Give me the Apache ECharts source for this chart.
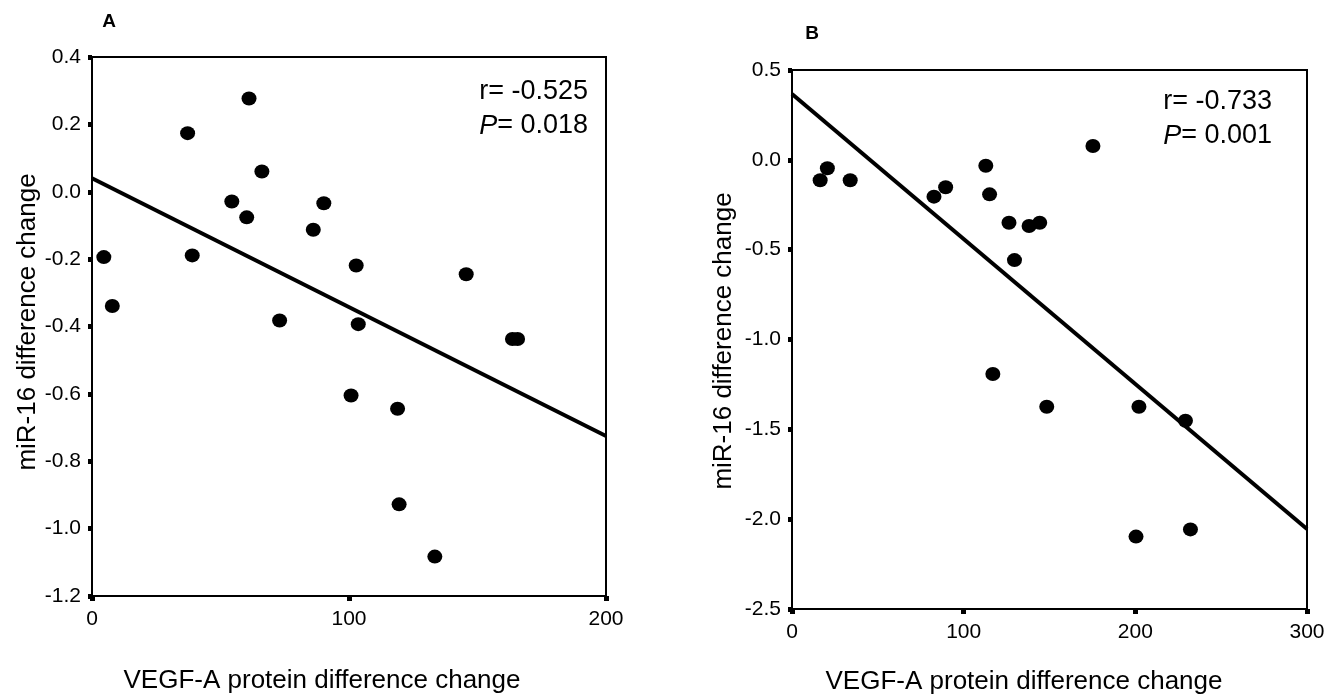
<!DOCTYPE html>
<html>
<head>
<meta charset="utf-8">
<script src="https://cdn.jsdelivr.net/npm/echarts@6/dist/echarts.min.js"></script>
<style>
html,body{margin:0;padding:0;background:#fff;}
#chart{width:1329px;height:697px;}
</style>
</head>
<body>
<div id="chart"></div>
<script>
// ---------- Data ----------
// Panel A: VEGF-A protein difference change (x) vs miR-16 difference change (y)
const aX = [4.6, 7.9, 37.2, 39.0, 61.1, 54.4, 60.2, 66.1, 90.2, 86.1, 102.8, 73.0, 103.6, 145.6, 163.6, 165.6, 100.8, 118.9, 119.5, 133.4];
const aY = [-0.194, -0.339, 0.174, -0.189, 0.277, -0.029, -0.076, 0.060, -0.034, -0.113, -0.219, -0.382, -0.393, -0.245, -0.437, -0.437, -0.605, -0.644, -0.928, -1.083];
const aFitX = [0, 200];
const aFitY = [0.040, -0.725];
const aStats = ["r= -0.525", "0.018"];

// Panel B
const bX = [16.4, 20.6, 33.9, 82.7, 89.5, 112.9, 115.1, 126.4, 138.1, 144.3, 129.6, 175.3, 117.0, 148.4, 202.1, 229.2, 200.4, 232.1];
const bY = [-0.114, -0.047, -0.114, -0.205, -0.153, -0.033, -0.192, -0.350, -0.368, -0.350, -0.558, 0.077, -1.192, -1.374, -1.374, -1.452, -2.097, -2.057];
const bFitX = [0, 300];
const bFitY = [0.366, -2.055];
const bStats = ["r= -0.733", "0.001"];

const xName = "VEGF-A protein difference change";
const yName = "miR-16 difference change";
const panelLabels = ["A", "B"];

// ---------- Chart ----------
const FONT = "'Liberation Sans', Arial, Helvetica, sans-serif";
const zip = (xs, ys) => xs.map((x, i) => [x, ys[i]]);

function xAxisCfg(gi, max) {
  return {
    type: 'value', gridIndex: gi, min: 0, max: max, interval: 100,
    axisLine: {show: true, onZero: false, lineStyle: {color: '#000', width: 2}},
    axisTick: {show: true, length: 5, lineStyle: {color: '#000', width: 5}},
    axisLabel: {color: '#000', fontSize: 21, fontFamily: FONT, margin: 13},
    splitLine: {show: false}
  };
}
function yAxisCfg(gi, min, max, interval) {
  return {
    type: 'value', gridIndex: gi, min: min, max: max, interval: interval,
    axisLine: {show: true, onZero: false, lineStyle: {color: '#000', width: 2}},
    axisTick: {show: true, length: 4, lineStyle: {color: '#000', width: 5}},
    axisLabel: {color: '#000', fontSize: 21, fontFamily: FONT, margin: 11,
      formatter: v => v.toFixed(1)},
    splitLine: {show: false}
  };
}

const chart = echarts.init(document.getElementById('chart'), null, {renderer: 'canvas'});

const gridBase = {show: true, borderColor: '#000', borderWidth: 2, backgroundColor: 'transparent',
  containLabel: false, outerBoundsMode: 'none'};

const dotStyle = {color: '#000', opacity: 1};

const option = {
  animation: false,
  backgroundColor: '#fff',
  grid: [
    Object.assign({left: 92, top: 57, width: 514, height: 539}, gridBase),
    Object.assign({left: 792, top: 70, width: 515, height: 539}, gridBase)
  ],
  xAxis: [xAxisCfg(0, 200), xAxisCfg(1, 300)],
  yAxis: [yAxisCfg(0, -1.2, 0.4, 0.2), yAxisCfg(1, -2.5, 0.5, 0.5)],
  series: [
    {type: 'line', xAxisIndex: 0, yAxisIndex: 0, data: zip(aFitX, aFitY), symbol: 'none', z: 2,
      lineStyle: {color: '#000', width: 4}},
    {type: 'scatter', xAxisIndex: 0, yAxisIndex: 0, data: zip(aX, aY), symbol: 'circle', symbolSize: [15, 14], z: 3,
      itemStyle: dotStyle},
    {type: 'line', xAxisIndex: 1, yAxisIndex: 1, data: zip(bFitX, bFitY), symbol: 'none', z: 2,
      lineStyle: {color: '#000', width: 4}},
    {type: 'scatter', xAxisIndex: 1, yAxisIndex: 1, data: zip(bX, bY), symbol: 'circle', symbolSize: [15, 14], z: 3,
      itemStyle: dotStyle}
  ],
  graphic: [
    {type: 'text', x: 109, y: 22, style: {text: panelLabels[0], font: 'bold 19px ' + FONT, fill: '#000', align: 'center', verticalAlign: 'middle'}},
    {type: 'text', x: 812, y: 34, style: {text: panelLabels[1], font: 'bold 19px ' + FONT, fill: '#000', align: 'center', verticalAlign: 'middle'}},
    // stats A
    {type: 'text', x: 588, y: 92, style: {text: aStats[0], font: '27px ' + FONT, fill: '#000', align: 'right', verticalAlign: 'middle'}},
    {type: 'text', x: 588, y: 126, style: {text: '{i|P}= ' + aStats[1], font: '27px ' + FONT, fill: '#000', align: 'right', verticalAlign: 'middle',
      rich: {i: {font: 'italic 27px ' + FONT, fill: '#000'}}}},
    // stats B
    {type: 'text', x: 1272, y: 102, style: {text: bStats[0], font: '27px ' + FONT, fill: '#000', align: 'right', verticalAlign: 'middle'}},
    {type: 'text', x: 1272, y: 136, style: {text: '{i|P}= ' + bStats[1], font: '27px ' + FONT, fill: '#000', align: 'right', verticalAlign: 'middle',
      rich: {i: {font: 'italic 27px ' + FONT, fill: '#000'}}}},
    // axis names
    {type: 'text', x: 322, y: 681, style: {text: xName, font: '26px ' + FONT, fill: '#000', align: 'center', verticalAlign: 'middle'}},
    {type: 'text', x: 1024, y: 682, style: {text: xName, font: '26px ' + FONT, fill: '#000', align: 'center', verticalAlign: 'middle'}},
    {type: 'text', x: 28, y: 322, rotation: Math.PI / 2, style: {text: yName, font: '26px ' + FONT, fill: '#000', align: 'center', verticalAlign: 'middle'}},
    {type: 'text', x: 724, y: 341, rotation: Math.PI / 2, style: {text: yName, font: '26px ' + FONT, fill: '#000', align: 'center', verticalAlign: 'middle'}}
  ]
};
chart.setOption(option);
</script>
</body>
</html>
